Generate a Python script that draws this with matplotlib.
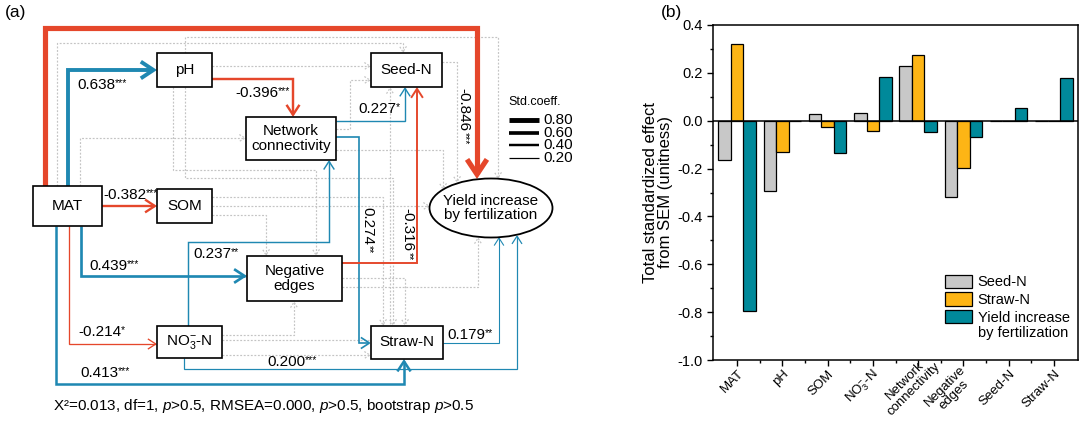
import numpy as np
import matplotlib
matplotlib.use("Agg")
import matplotlib.pyplot as plt
from matplotlib.patches import FancyArrowPatch, Rectangle, Ellipse
from matplotlib.path import Path
from matplotlib.ticker import MultipleLocator, FormatStrFormatter
from matplotlib.transforms import blended_transform_factory, ScaledTranslation

plt.rcParams.update(
    {
        "font.family": ["Liberation Sans", "DejaVu Sans"],
        "mathtext.fontset": "custom",
        "mathtext.rm": "Liberation Sans",
        "mathtext.it": "Liberation Sans:italic",
        "mathtext.bf": "Liberation Sans:bold",
        "axes.unicode_minus": False,
    }
)

# ---- panel (b): total standardized effects ----
CATEGORIES = ["MAT", "pH", "SOM", "NO3-N", "Network connectivity", "Negative edges", "Seed-N", "Straw-N"]
TICK_LABELS = ["MAT", "pH", "SOM", r"NO$_3^{-}$-N", "Network\nconnectivity", "Negative\nedges", "Seed-N", "Straw-N"]
SERIES = ["Seed-N", "Straw-N", "Yield increase", "by fertilization"]
SEED_N = [-0.165, -0.295, 0.028, 0.033, 0.228, -0.318, 0.0, 0.0]
STRAW_N = [0.321, -0.132, -0.028, -0.043, 0.275, -0.196, 0.0, 0.0]
YIELD_INC = [-0.795, 0.0, -0.133, 0.184, -0.048, -0.066, 0.053, 0.179]

# ---- panel (a): significant SEM paths ----
PATH_FROM = ["MAT", "MAT", "MAT", "MAT", "MAT", "MAT", "pH", "NO3", "NO3", "NET", "NET", "NEG", "STRAW"]
PATH_TO = ["pH", "SOM", "NEG", "NO3", "STRAW", "YIELD", "NET", "NET", "YIELD", "SEED", "STRAW", "SEED", "YIELD"]
PATH_COEF = [0.638, -0.382, 0.439, -0.214, 0.413, -0.846, -0.396, 0.237, 0.200, 0.227, 0.274, -0.316, 0.179]
PATH_STARS = ["***", "***", "***", "*", "***", "***", "***", "**", "***", "*", "**", "**", "**"]
LEGEND_COEF = [0.80, 0.60, 0.40, 0.20]
FIT_TEXT = r"X²=0.013, df=1, $p$>0.5, RMSEA=0.000, $p$>0.5, bootstrap $p$>0.5"

# node boxes in pixel layout (x0, y0, x1, y1, label)
BOXES = {
    "MAT": (33, 186, 102, 226, "MAT"),
    "pH": (157, 53, 212, 87, "pH"),
    "SOM": (157, 189, 212, 223, "SOM"),
    "NO3": (157, 326, 222, 358, r"NO$_3^{-}$-N"),
    "NET": (246, 117, 336, 160, "Network\nconnectivity"),
    "NEG": (247, 256, 342, 301, "Negative\nedges"),
    "SEED": (371, 53, 442, 87, "Seed-N"),
    "STRAW": (371, 326, 443, 359, "Straw-N"),
}
YIELD_ELLIPSE = (491, 208, 123, 59)

# routing of each significant path: waypoints, label anchor, rotation, ha
ROUTES = [
    ([(68, 186), (68, 70), (157, 70)], (77, 85), 0, "left"),
    ([(102, 206), (157, 206)], (103, 195), 0, "left"),
    ([(81, 226), (81, 276), (247, 276)], (89, 266), 0, "left"),
    ([(69, 226), (69, 344), (157, 344)], (78, 332), 0, "left"),
    ([(56, 226), (56, 384), (404, 384), (404, 359)], (80, 373), 0, "left"),
    ([(45, 186), (45, 28), (477, 28), (477, 179)], (463, 110), -90, "center"),
    ([(212, 79), (293, 79), (293, 117)], (235, 93), 0, "left"),
    ([(188, 326), (188, 242), (329, 242), (329, 160)], (193, 254), 0, "left"),
    ([(184, 358), (184, 369), (517, 369), (517, 235)], (267, 362), 0, "left"),
    ([(336, 121), (405, 121), (405, 87)], (358, 109), 0, "left"),
    ([(336, 137), (359, 137), (359, 343), (371, 343)], (367, 226), -90, "center"),
    ([(342, 263), (417, 263), (417, 87)], (407, 230), -90, "center"),
    ([(443, 343), (499, 343), (499, 237)], (447, 335), 0, "left"),
]

# non-significant paths (grey dotted)
DOTTED = [
    [(57, 186), (57, 43), (403, 43), (403, 53)],
    [(185, 53), (185, 37), (498, 37), (498, 179)],
    [(80, 186), (80, 138), (246, 138)],
    [(212, 66), (371, 66)],
    [(173, 87), (173, 170), (316, 170), (316, 256)],
    [(185, 87), (185, 178), (393, 178), (393, 326)],
    [(212, 206), (430, 206)],
    [(212, 215), (266, 215), (266, 256)],
    [(212, 197), (383, 197), (383, 326)],
    [(342, 287), (478, 287), (478, 237)],
    [(342, 278), (405, 278), (405, 326)],
    [(222, 355), (371, 355)],
    [(222, 335), (294, 335), (294, 301)],
    [(222, 340), (390, 340), (390, 87)],
    [(442, 62), (457, 62), (457, 183)],
    [(336, 150), (443, 150), (443, 190)],
    [(336, 129), (350, 129), (350, 80), (371, 80)],
]

RED = "#E5472B"
BLUE = "#1F88B2"
GREY = "#C4C4C4"
SEED_C = "#C8C8C8"
STRAW_C = "#FDB515"
YIELD_C = "#00899A"


def coef_lw(c):
    return abs(c) * 4.4


def draw_route(ax, pts, color, lw, hl, hw, ls="-", z=3):
    arr = FancyArrowPatch(
        path=Path(pts),
        arrowstyle=f"->,head_length={hl},head_width={hw}",
        color=color,
        lw=lw,
        linestyle=ls,
        mutation_scale=1,
        joinstyle="miter",
        capstyle="butt",
        zorder=z,
    )
    ax.add_patch(arr)


fig = plt.figure(figsize=(10.8, 4.28), dpi=100)

# ---------------- panel (a) ----------------
axa = fig.add_axes([0, 0, 648 / 1080, 1])
axa.set_xlim(0, 648)
axa.set_ylim(428, 0)
axa.axis("off")

for pts in DOTTED:
    draw_route(axa, pts, GREY, 0.85, 4.0, 2.5, ls=(0, (1.6, 1.4)), z=2)

for coef, (pts, lab_xy, rot, ha), stars in zip(PATH_COEF, ROUTES, PATH_STARS):
    color = RED if coef < 0 else BLUE
    a = abs(coef)
    draw_route(axa, pts, color, coef_lw(coef), 4 + 8 * a, 2.5 + 5.5 * a, z=3 + a)
    num = axa.text(lab_xy[0], lab_xy[1], f"{coef:.3f}", fontsize=11, rotation=rot,
                   ha=ha, va="center", zorder=8)
    if rot == 0:
        axa.annotate(stars, xy=(1, 1), xycoords=num, ha="left", va="top",
                     fontsize=7.5, zorder=8)
    else:
        axa.annotate(stars, xy=(1, 0), xycoords=num, ha="right", va="top",
                     rotation=rot, fontsize=7.5, zorder=8)

for key, (x0, y0, x1, y1, label) in BOXES.items():
    axa.add_patch(Rectangle((x0, y0), x1 - x0, y1 - y0, fc="white", ec="black", lw=1.2, zorder=6))
    axa.text((x0 + x1) / 2, (y0 + y1) / 2, label, fontsize=11, ha="center", va="center",
             linespacing=1.05, zorder=7)

ex, ey, ew, eh = YIELD_ELLIPSE
axa.add_patch(Ellipse((ex, ey), ew, eh, fc="white", ec="black", lw=1.3, zorder=6))
axa.text(ex, ey, "Yield increase\nby fertilization", fontsize=11, ha="center", va="center",
         linespacing=1.05, zorder=7)

# coefficient width legend
axa.text(508, 102, "Std.coeff.", fontsize=9, ha="left", va="center")
for i, c in enumerate(LEGEND_COEF):
    yy = 120 + i * 12.7
    axa.plot([509, 539], [yy, yy], color="black", lw=coef_lw(c), solid_capstyle="butt")
    axa.text(543, yy, f"{c:.2f}", fontsize=11, ha="left", va="center")

axa.text(53, 406, FIT_TEXT, fontsize=11, ha="left", va="center")
fig.text(5 / 1080, 1 - 13 / 428, "(a)", fontsize=12.5, ha="left", va="center")

# ---------------- panel (b) ----------------
axb = fig.add_axes([713 / 1080, 1 - 360 / 428, 365 / 1080, 335 / 428])
x = np.arange(len(CATEGORIES))
w = 0.275
for vals, col, off, lab in zip([SEED_N, STRAW_N, YIELD_INC], [SEED_C, STRAW_C, YIELD_C], [-w, 0, w], SERIES):
    axb.bar(x + off, vals, w, color=col, edgecolor="black", linewidth=0.9, label=lab, zorder=3)
axb.axhline(0, color="black", lw=1.1, zorder=4)
axb.set_xlim(-0.53, len(CATEGORIES) - 0.47)
axb.set_ylim(-1.0, 0.4)
axb.yaxis.set_major_locator(MultipleLocator(0.2))
axb.yaxis.set_minor_locator(MultipleLocator(0.1))
axb.yaxis.set_major_formatter(FormatStrFormatter("%.1f"))
axb.set_xticks(x)
axb.set_xticks(x[:-1] + 0.5, minor=True)
axb.set_xticklabels([])
axb.tick_params(axis="both", which="major", direction="out", length=4, width=1, labelsize=10.5)
axb.tick_params(axis="both", which="minor", direction="out", length=2.5, width=1)
for sp in axb.spines.values():
    sp.set_linewidth(1.1)

# category labels, rotated; two-line labels are centred on their first line like the original
xlab_tr = blended_transform_factory(axb.transData, axb.transAxes)
for i, lab in enumerate(TICK_LABELS):
    lines = lab.split("\n")
    shift = 0.0
    if len(lines) == 2 and len(lines[1]) > len(lines[0]):
        shift = (len(lines[1]) - len(lines[0])) * 2.3  # points along the text direction
    tr = xlab_tr + ScaledTranslation(shift * 0.707 / 72, shift * 0.707 / 72, fig.dpi_scale_trans)
    axb.text(i + 0.1, -0.036, lab, transform=tr, rotation=45, rotation_mode="anchor",
             ha="right", va="center", fontsize=9.5, linespacing=1.0, multialignment="center")

axb.set_ylabel("Total standardized effect\nfrom SEM (unitness)", fontsize=12, labelpad=3,
               linespacing=1.05)
leg = axb.legend(loc="upper left", bbox_to_anchor=(0.635, 0.255), frameon=False, fontsize=10.5,
                 handlelength=1.9, handleheight=1.05, labelspacing=0.2, handletextpad=0.35,
                 borderpad=0, borderaxespad=0)
axb.annotate(SERIES[3], xy=(0, 0), xycoords=leg.get_texts()[2], xytext=(0, -1),
             textcoords="offset points", ha="left", va="top", fontsize=10.5, zorder=10)
fig.text(661 / 1080, 1 - 13 / 428, "(b)", fontsize=12.5, ha="left", va="center")

fig.savefig("out.png", dpi=100)
